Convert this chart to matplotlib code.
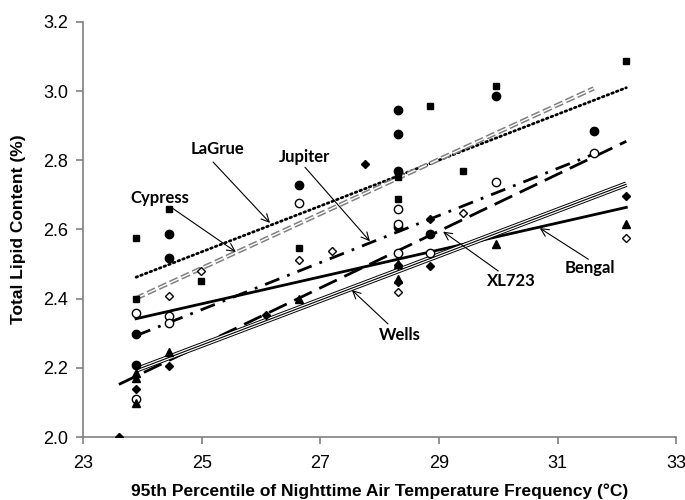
import matplotlib
matplotlib.use("Agg")
import matplotlib.pyplot as plt
import numpy as np

plt.rcParams["font.family"] = ["Liberation Sans", "DejaVu Sans"]

# ---- data: scatter points per cultivar ----
lagrue_x = [23.89, 23.89, 24.45, 24.98, 26.64, 28.31, 28.31, 28.85, 29.41, 29.96, 32.16]
lagrue_y = [2.576, 2.400, 2.658, 2.452, 2.547, 2.751, 2.688, 2.957, 2.768, 3.016, 3.087]

cypress_x = [23.89, 23.89, 24.45, 24.45, 26.64, 28.31, 28.31, 28.31, 28.31, 28.85, 29.96, 31.61]
cypress_y = [2.298, 2.209, 2.588, 2.519, 2.728, 2.945, 2.876, 2.769, 2.608, 2.588, 2.986, 2.884]

jupiter_x = [23.89, 23.89, 24.45, 24.45, 26.64, 28.31, 28.31, 28.31, 28.85, 29.96, 31.61]
jupiter_y = [2.358, 2.110, 2.349, 2.329, 2.678, 2.659, 2.615, 2.533, 2.533, 2.738, 2.822]

bengal_x = [24.45, 24.98, 26.64, 27.20, 28.31, 29.41, 32.16]
bengal_y = [2.408, 2.480, 2.511, 2.538, 2.418, 2.647, 2.575]

xl723_x = [23.60, 23.89, 24.45, 26.09, 27.75, 28.31, 28.31, 28.85, 28.85, 32.16]
xl723_y = [2.000, 2.138, 2.206, 2.353, 2.788, 2.497, 2.449, 2.629, 2.495, 2.697]

wells_x = [23.89, 23.89, 23.89, 24.45, 26.64, 28.31, 28.31, 29.96, 32.16]
wells_y = [2.186, 2.170, 2.097, 2.247, 2.398, 2.456, 2.500, 2.557, 2.615]

# ---- trend line end points ----
lagrue_fit_x = [23.89, 32.16]
lagrue_fit_y = [2.462, 3.010]
cypress_fit_x = [23.89, 31.61]
cypress_fit_y = [2.401, 3.008]
jupiter_fit_x = [23.89, 31.61]
jupiter_fit_y = [2.293, 2.818]
wells_fit_x = [23.89, 32.16]
wells_fit_y = [2.194, 2.731]
xl723_fit_x = [23.60, 32.16]
xl723_fit_y = [2.152, 2.855]
bengal_fit_x = [23.89, 32.16]
bengal_fit_y = [2.342, 2.664]

x_ticks = [23, 25, 27, 29, 31, 33]
y_ticks = [2.0, 2.2, 2.4, 2.6, 2.8, 3.0, 3.2]

labels = ["Cypress", "LaGrue", "Jupiter", "Wells", "XL723", "Bengal"]

fig = plt.figure(figsize=(6.85, 5.0), dpi=100)
ax = fig.add_axes([0.1216, 0.126, 0.8654, 0.830])

# trend lines
ax.plot(lagrue_fit_x, lagrue_fit_y, color="black", lw=2.0, linestyle=(0, (0.6, 1.2)),
        dash_capstyle="round", zorder=2)
ax.plot(cypress_fit_x, cypress_fit_y, color="#808080", lw=3.2, linestyle=(0, (2.0, 0.8)), zorder=2)
ax.plot(cypress_fit_x, cypress_fit_y, color="white", lw=1.0, linestyle=(0, (6.4, 2.56)), zorder=2.1)
ax.plot(jupiter_fit_x, jupiter_fit_y, color="black", lw=2.0,
        linestyle=(0, (5.5, 3.0, 1.0, 3.0)), zorder=2)
ax.plot(wells_fit_x, wells_fit_y, color="black", lw=4.0, zorder=2, solid_capstyle="butt")
ax.plot(wells_fit_x, wells_fit_y, color="white", lw=2.6, zorder=2.1, solid_capstyle="butt")
ax.plot(wells_fit_x, wells_fit_y, color="black", lw=0.8, zorder=2.2, solid_capstyle="butt")
ax.plot(xl723_fit_x, xl723_fit_y, color="black", lw=2.0, linestyle=(0, (7.0, 3.0)), zorder=2)
ax.plot(bengal_fit_x, bengal_fit_y, color="black", lw=2.0, zorder=2)

ms = 5.5
ax.plot(lagrue_x, lagrue_y, "s", color="black", ms=ms - 0.5, ls="none", zorder=3)
ax.plot(cypress_x, cypress_y, "o", color="black", ms=ms + 0.5, ls="none", zorder=3)
ax.plot(jupiter_x, jupiter_y, "o", mfc="white", mec="black", mew=1.0, ms=ms + 0.5, ls="none", zorder=3)
ax.plot(bengal_x, bengal_y, "D", mfc="white", mec="black", mew=1.0, ms=ms - 1.0, ls="none", zorder=3)
ax.plot(xl723_x, xl723_y, "D", color="black", ms=ms - 1.0, ls="none", zorder=3)
ax.plot(wells_x, wells_y, "^", color="black", ms=ms + 0.5, ls="none", zorder=3)

# annotations
txt_kw = dict(fontsize=12, fontweight="bold", family=["Lato", "DejaVu Sans"], ha="center",
              va="center", zorder=5)
arrow_kw = dict(arrowstyle="->", color="black", lw=0.8, mutation_scale=14, shrinkA=0, shrinkB=0)

ann_text = [(24.29, 2.691), (25.27, 2.832), (26.74, 2.809), (28.34, 2.295), (30.22, 2.451), (31.55, 2.488)]
ann_start = [(24.50, 2.662), (25.19, 2.795), (26.74, 2.780), (28.14, 2.327), (30.00, 2.480), (31.52, 2.514)]
ann_end = [(25.575, 2.535), (26.15, 2.619), (27.835, 2.566), (27.53, 2.425), (29.07, 2.594), (30.70, 2.604)]
for lab, tp, sp, ep in zip(labels, ann_text, ann_start, ann_end):
    ax.text(tp[0], tp[1], lab, **txt_kw)
    ax.annotate("", xy=ep, xytext=sp, arrowprops=arrow_kw, zorder=4)

ax.set_xlim(23, 33)
ax.set_ylim(2.0, 3.2)
ax.set_xticks(x_ticks)
ax.set_yticks(y_ticks)
ax.set_xticklabels([str(t) for t in x_ticks], fontsize=13)
ax.set_yticklabels([f"{t:.1f}" for t in y_ticks], fontsize=13)

for side in ["top", "right"]:
    ax.spines[side].set_visible(False)
for side in ["left", "bottom"]:
    ax.spines[side].set_color("#808080")
    ax.spines[side].set_linewidth(1.2)
ax.tick_params(axis="both", direction="out", length=5, width=1.2, color="#808080")
ax.tick_params(axis="x", pad=8)
ax.tick_params(axis="y", pad=6)

ax.set_xlabel("95th Percentile of Nighttime Air Temperature Frequency (°C)",
              fontweight="bold", fontsize=12.5, labelpad=8)
ax.set_ylabel("Total Lipid Content (%)", fontweight="bold", fontsize=12.5, labelpad=12)

fig.savefig("out.png", dpi=100)
